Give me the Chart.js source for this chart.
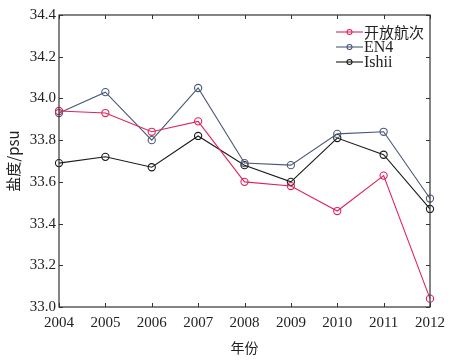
<!DOCTYPE html>
<html><head><meta charset="utf-8">
<script src="https://cdn.jsdelivr.net/npm/chart.js@4"></script>
<style>html,body{margin:0;padding:0;background:#fff}canvas{display:block}</style>
</head><body>
<canvas id="c" width="464" height="360"></canvas>
<script>
const years = ['2004','2005','2006','2007','2008','2009','2010','2011','2012'];
const openCruise = [33.94, 33.93, 33.84, 33.89, 33.60, 33.58, 33.46, 33.63, 33.04];
const en4 = [33.93, 34.03, 33.80, 34.05, 33.69, 33.68, 33.83, 33.84, 33.52];
const ishii = [33.69, 33.72, 33.67, 33.82, 33.68, 33.60, 33.81, 33.73, 33.47];
const seriesNames = ['开放航次', 'EN4', 'Ishii'];
const yTicks = [33.0, 33.2, 33.4, 33.6, 33.8, 34.0, 34.2, 34.4];

const serif = "'Liberation Serif', 'DejaVu Serif', serif";
const colors = ['#e0245a', '#4a5878', '#1a1a1a'];

function ds(label, data, color) {
  return {label, data, borderColor: color, backgroundColor: 'rgba(255,255,255,0)',
    borderWidth: 1.1, pointRadius: 3.6, pointBorderWidth: 1.1, pointHoverRadius: 3.6,
    pointBackgroundColor: 'rgba(255,255,255,0)', pointBorderColor: color, tension: 0};
}

const framePlugin = {
  id: 'frame',
  afterDraw(chart) {
    const {ctx, chartArea: a, scales: {x, y}} = chart;
    ctx.save();
    ctx.strokeStyle = '#333';
    ctx.lineWidth = 1.2;
    ctx.strokeRect(a.left, a.top, a.right - a.left, a.bottom - a.top);
    ctx.lineWidth = 1;
    const L = 4;
    x.ticks.forEach((t, i) => {
      const px = Math.round(x.getPixelForTick(i)) + 0.5;
      ctx.beginPath();
      ctx.moveTo(px, a.bottom); ctx.lineTo(px, a.bottom - L);
      ctx.moveTo(px, a.top); ctx.lineTo(px, a.top + L);
      ctx.stroke();
    });
    y.ticks.forEach((t, i) => {
      const py = Math.round(y.getPixelForTick(i)) + 0.5;
      ctx.beginPath();
      ctx.moveTo(a.left, py); ctx.lineTo(a.left + L, py);
      ctx.moveTo(a.right, py); ctx.lineTo(a.right - L, py);
      ctx.stroke();
    });
    // legend
    const lx1 = a.right - 94, lx2 = a.right - 67;
    chart.data.datasets.forEach((d, i) => {
      const ly = a.top + 17 + i * 15;
      ctx.strokeStyle = d.borderColor;
      ctx.lineWidth = 1.1;
      ctx.beginPath(); ctx.moveTo(lx1, ly); ctx.lineTo(lx2, ly); ctx.stroke();
      ctx.beginPath(); ctx.arc((lx1 + lx2) / 2, ly, 2.5, 0, Math.PI * 2); ctx.stroke();
      ctx.fillStyle = '#222';
      ctx.textBaseline = 'middle';
      ctx.textAlign = 'left';
      ctx.font = i === 0 ? "15px 'Noto Sans CJK SC'" : "16px " + serif;
      ctx.fillText(d.label, lx2 + 1, ly + 0.5);
    });
    ctx.restore();
  }
};

new Chart(document.getElementById('c'), {
  type: 'line',
  data: {labels: years, datasets: [
    ds(seriesNames[0], openCruise, colors[0]),
    ds(seriesNames[1], en4, colors[1]),
    ds(seriesNames[2], ishii, colors[2])
  ]},
  options: {
    responsive: false, animation: false,
    layout: {padding: {top: 15, right: 34, left: 0, bottom: 0}},
    plugins: {legend: {display: false}, tooltip: {enabled: false}},
    scales: {
      x: {
        offset: false,
        grid: {display: false, drawTicks: false},
        border: {display: false},
        ticks: {color: '#222', font: {family: serif, size: 15}, padding: 7, maxRotation: 0, autoSkip: false},
        title: {display: true, text: '年份', color: '#222', font: {family: "'Noto Sans CJK SC'", size: 14}, padding: {top: 0}},
        afterFit(s) { s.height = 53; }
      },
      y: {
        min: 33.0, max: 34.4,
        afterBuildTicks(s) { s.ticks = yTicks.map(v => ({value: v})); },
        grid: {display: false, drawTicks: false},
        border: {display: false},
        ticks: {color: '#222', font: {family: serif, size: 15}, padding: 3,
          callback: v => Number(v).toFixed(1)},
        title: {display: true, text: '盐度/psu', color: '#222', font: {family: "'Noto Sans CJK SC'", size: 15}, padding: {top: 4, bottom: 0}},
        afterFit(s) { s.width = 59; }
      }
    }
  },
  plugins: [framePlugin]
});
</script>
</body></html>
